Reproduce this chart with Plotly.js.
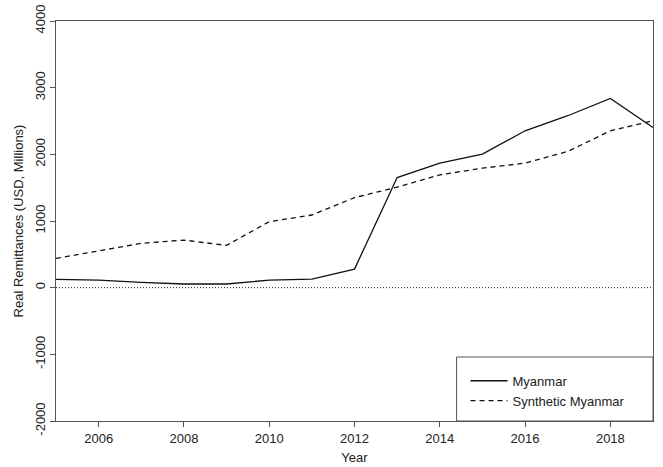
<!DOCTYPE html>
<html>
<head>
<meta charset="utf-8">
<script src="https://cdn.plot.ly/plotly-3.0.1.min.js"></script>
<style>
  html, body { margin: 0; padding: 0; background: #fff; }
  #chart { width: 663px; height: 467px; }
</style>
</head>
<body>
<div id="chart"></div>
<script>
// Annual real remittances, USD millions
const years = [2005, 2006, 2007, 2008, 2009, 2010, 2011, 2012, 2013, 2014, 2015, 2016, 2017, 2018, 2019];
const myanmar = [125, 112, 80, 55, 55, 113, 128, 278, 1651, 1868, 2003, 2353, 2579, 2839, 2403];
const syntheticMyanmar = [439, 550, 665, 714, 634, 990, 1090, 1351, 1507, 1692, 1792, 1868, 2043, 2353, 2504];

const xTicks = [2006, 2008, 2010, 2012, 2014, 2016, 2018];
const yTicks = [-2000, -1000, 0, 1000, 2000, 3000, 4000];

const FONT = 'Liberation Sans, Arial, sans-serif';
const axisColor = '#555';

const traces = [
  {
    x: years, y: myanmar, name: 'Myanmar', type: 'scatter', mode: 'lines',
    legendgroup: 'a',
    line: { color: '#111', width: 1.3 }
  },
  {
    x: years, y: syntheticMyanmar, name: 'Synthetic Myanmar', type: 'scatter', mode: 'lines',
    legendgroup: 'b',
    line: { color: '#111', width: 1.3, dash: '5px,4px' }
  }
];

const layout = {
  width: 663, height: 467,
  margin: { l: 56, r: 10, t: 21, b: 46 },
  paper_bgcolor: '#fff', plot_bgcolor: '#fff',
  font: { family: FONT, size: 13, color: '#222' },
  showlegend: true,
  legend: {
    x: 0.686, xanchor: 'left', y: 0.138, yanchor: 'top',
    bgcolor: 'rgba(0,0,0,0)', borderwidth: 0,
    font: { family: FONT, size: 13, color: '#222' },
    itemwidth: 37,
    tracegroupgap: 0
  },
  xaxis: {
    range: [2005, 2019], tickvals: xTicks, ticktext: xTicks.map(String),
    showgrid: false, zeroline: false,
    showline: true, linecolor: axisColor, linewidth: 1, mirror: true,
    ticks: 'outside', ticklen: 5, tickcolor: axisColor, tickwidth: 1,
    tickfont: { family: FONT, size: 13, color: '#222' },
    title: { text: 'Year', font: { family: FONT, size: 13, color: '#222' }, standoff: 8 }
  },
  yaxis: {
    range: [-2000, 4000], tickvals: yTicks, ticktext: yTicks.map(String),
    tickangle: -90,
    showgrid: false, zeroline: false,
    showline: true, linecolor: axisColor, linewidth: 1, mirror: true,
    ticks: 'outside', ticklen: 5, tickcolor: axisColor, tickwidth: 1,
    tickfont: { family: FONT, size: 13, color: '#222' },
    title: { text: 'Real Remittances (USD, Millions)', font: { family: FONT, size: 13, color: '#222' }, standoff: 6 }
  },
  shapes: [
    // horizontal reference at zero
    { type: 'line', xref: 'paper', x0: 0, x1: 1, yref: 'y', y0: 0, y1: 0,
      line: { color: '#222', width: 1, dash: '1px,2px' } },
    // legend frame
    { type: 'rect', xref: 'paper', yref: 'paper', x0: 0.671, x1: 1, y0: 0, y1: 0.160,
      line: { color: axisColor, width: 1 }, fillcolor: 'rgba(0,0,0,0)' }
  ]
};

Plotly.newPlot('chart', traces, layout, { staticPlot: true, displayModeBar: false });
</script>
</body>
</html>
